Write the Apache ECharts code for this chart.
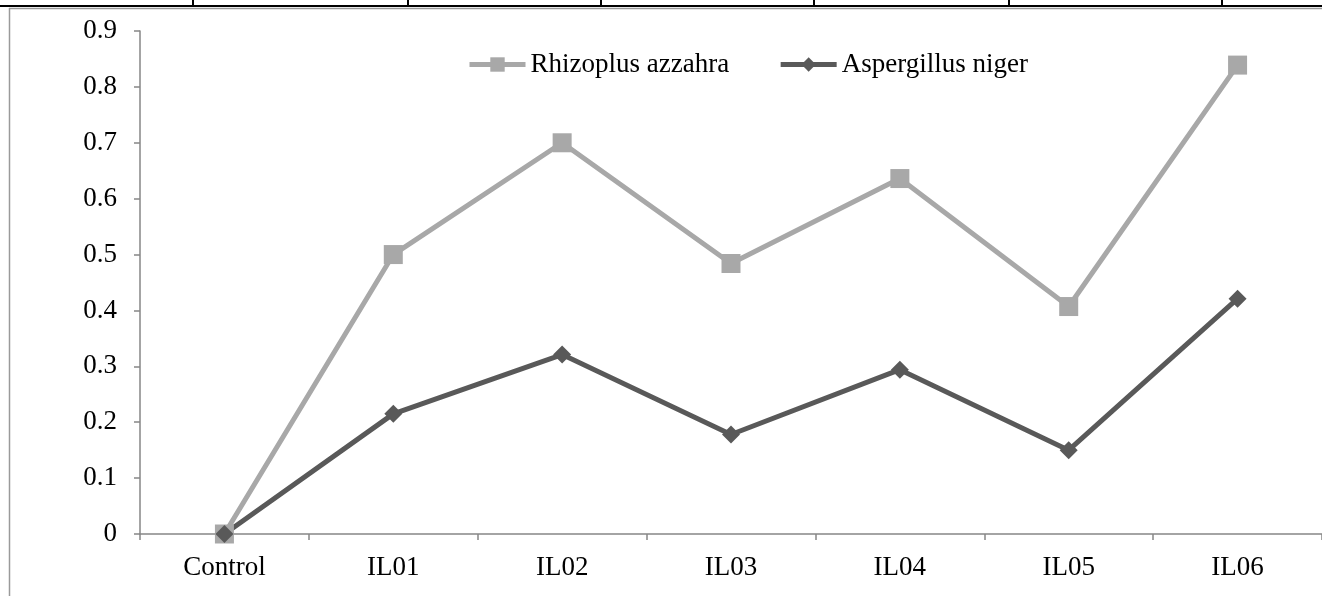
<!DOCTYPE html>
<html>
<head>
<meta charset="utf-8">
<script src="https://cdn.jsdelivr.net/npm/echarts@6/dist/echarts.min.js"></script>
<style>html,body{margin:0;padding:0;background:#fff;}#c{width:1322px;height:596px;}</style>
</head>
<body>
<div id="c"></div>
<script>
var categories = ['Control', 'IL01', 'IL02', 'IL03', 'IL04', 'IL05', 'IL06'];
var rhizoplus = [0, 0.50, 0.70, 0.484, 0.636, 0.407, 0.839];
var aspergillus = [0, 0.215, 0.321, 0.178, 0.294, 0.150, 0.421];
var seriesNames = ['Rhizoplus azzahra', 'Aspergillus niger'];

var font = '"Liberation Serif", "Times New Roman", serif';
var chart = echarts.init(document.getElementById('c'));
var tableX = [193, 408, 601, 814, 1009, 1222];
var graphics = [
  {type: 'line', shape: {x1: 0, y1: 6, x2: 1322, y2: 6}, style: {stroke: '#000', lineWidth: 2}},
  {type: 'line', shape: {x1: 9, y1: 8.5, x2: 1322, y2: 8.5}, style: {stroke: '#9a9a9a', lineWidth: 1.5}},
  {type: 'line', shape: {x1: 9.5, y1: 8, x2: 9.5, y2: 596}, style: {stroke: '#9a9a9a', lineWidth: 1.5}}
];
tableX.forEach(function (x) {
  graphics.push({type: 'line', shape: {x1: x, y1: 0, x2: x, y2: 6}, style: {stroke: '#000', lineWidth: 2}});
});

chart.setOption({
  animation: false,
  backgroundColor: '#fff',
  graphic: graphics,
  grid: {left: 140, right: -11, top: 31, bottom: 62},
  legend: {
    data: seriesNames,
    left: 467, top: 51, padding: 0,
    itemWidth: 56, itemHeight: 18, itemGap: 49,
    lineStyle: {width: 5},
    textStyle: {fontFamily: font, fontSize: 27, color: '#000'}
  },
  xAxis: {
    type: 'category',
    data: categories,
    boundaryGap: true,
    axisLine: {lineStyle: {color: '#868686', width: 1.5}},
    axisTick: {show: true, length: 6, lineStyle: {color: '#868686', width: 1.5}},
    axisLabel: {fontFamily: font, fontSize: 27, color: '#000', margin: 20}
  },
  yAxis: {
    type: 'value',
    min: 0, max: 0.9, interval: 0.1,
    axisLine: {show: true, lineStyle: {color: '#868686', width: 1.5}},
    axisTick: {show: true, length: 6, lineStyle: {color: '#868686', width: 1.5}},
    splitLine: {show: false},
    axisLabel: {fontFamily: font, fontSize: 27, color: '#000', margin: 23,
      formatter: function (v) { return String(Math.round(v * 10) / 10); }}
  },
  series: [
    {
      name: seriesNames[0], type: 'line', data: rhizoplus,
      symbol: 'rect', symbolSize: 19,
      lineStyle: {color: '#a8a8a8', width: 5},
      itemStyle: {color: '#a8a8a8'}
    },
    {
      name: seriesNames[1], type: 'line', data: aspergillus,
      symbol: 'diamond', symbolSize: [18, 18],
      lineStyle: {color: '#595959', width: 5},
      itemStyle: {color: '#595959'}
    }
  ]
});
</script>
</body>
</html>
